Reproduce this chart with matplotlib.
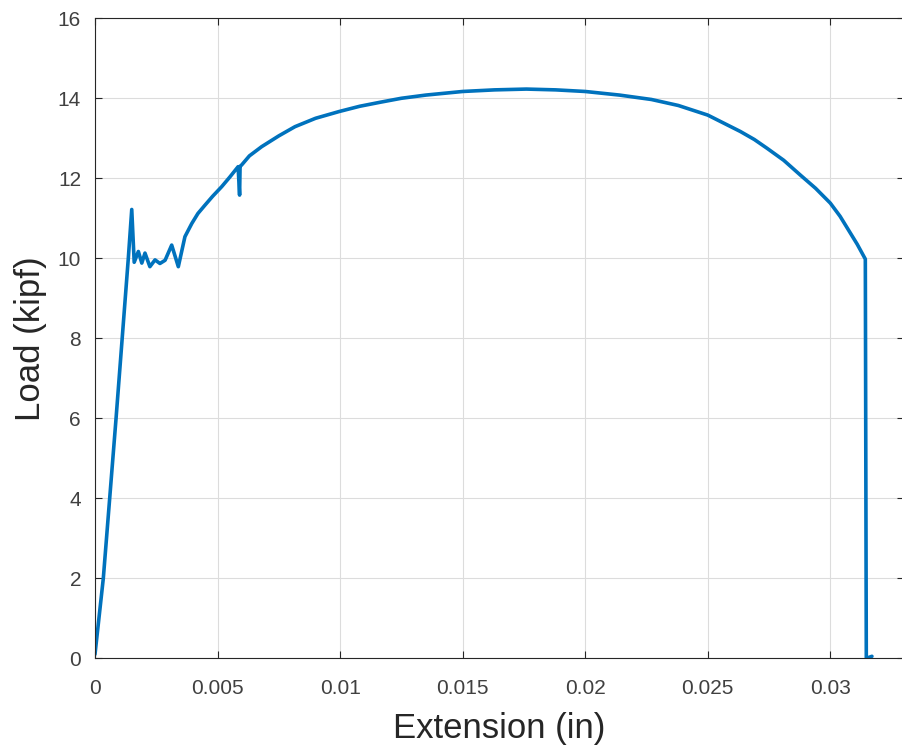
"""
Load vs extension curve from a tensile test
"""
import matplotlib
matplotlib.use("Agg")
import matplotlib.pyplot as plt
import numpy as np

# extension (in)
extension = [0.0, 0.00034, 0.00060, 0.00086, 0.00111, 0.00136, 0.00150,
             0.00160, 0.00177, 0.00191, 0.00204, 0.00224, 0.00245, 0.00265,
             0.00286, 0.00313, 0.00340, 0.00367, 0.00395, 0.00420, 0.00449,
             0.00480, 0.00517, 0.00550, 0.00584, 0.00590, 0.00592, 0.00598,
             0.00630, 0.00680, 0.00750, 0.00816, 0.00900, 0.00997, 0.01080,
             0.01163, 0.01250, 0.01350, 0.01500, 0.01630, 0.01760, 0.01880,
             0.02000, 0.02140, 0.02270, 0.02380, 0.02500, 0.02633, 0.02690,
             0.02742, 0.02810, 0.02878, 0.02940, 0.03000, 0.03040, 0.03082,
             0.03110, 0.03143, 0.03147, 0.03170]
# load (kipf)
load = [0.10, 2.0, 4.0, 6.0, 8.0, 10.0, 11.22,
        9.90, 10.17, 9.88, 10.13, 9.79, 9.96, 9.87,
        9.95, 10.33, 9.79, 10.54, 10.87, 11.12, 11.33,
        11.55, 11.79, 12.03, 12.29, 11.58, 12.30, 12.33,
        12.56, 12.79, 13.06, 13.29, 13.50, 13.67, 13.80,
        13.90, 14.00, 14.08, 14.17, 14.21, 14.23, 14.21,
        14.17, 14.08, 13.97, 13.82, 13.58, 13.17, 12.97,
        12.75, 12.45, 12.08, 11.75, 11.38, 11.05, 10.63,
        10.35, 9.98, 0.0, 0.05]

x_ticks = np.arange(0, 0.0301, 0.005)
x_tick_labels = ["0", "0.005", "0.01", "0.015", "0.02", "0.025", "0.03"]
y_ticks = np.arange(0, 17, 2)

plt.rcParams["font.family"] = ["Liberation Sans", "DejaVu Sans"]

fig = plt.figure(figsize=(9.02, 7.52), dpi=100)
ax = fig.add_axes([0.1053, 0.1246, 0.8967, 0.8511])

ax.plot(extension, load, color="#0072BD", linewidth=2.6,
        solid_joinstyle="round", solid_capstyle="round")

ax.set_xlim(0, 0.033)
ax.set_ylim(0, 16)
ax.set_xticks(x_ticks)
ax.set_xticklabels(x_tick_labels)
ax.set_yticks(y_ticks)

ax.grid(True, color="#dcdcdc", linewidth=0.8)
ax.set_axisbelow(True)
ax.tick_params(direction="in", top=True, right=True, length=5, width=0.8,
               colors="#262626", labelsize=15, labelcolor="#404040")
ax.tick_params(axis="x", pad=15)
ax.tick_params(axis="y", pad=10)
for spine in ax.spines.values():
    spine.set_color("#262626")
    spine.set_linewidth(0.8)

ax.set_xlabel("Extension (in)", fontsize=25, color="#262626", labelpad=10)
ax.set_ylabel("Load (kipf)", fontsize=25, color="#262626", labelpad=8)

fig.savefig("out.png", dpi=100)
